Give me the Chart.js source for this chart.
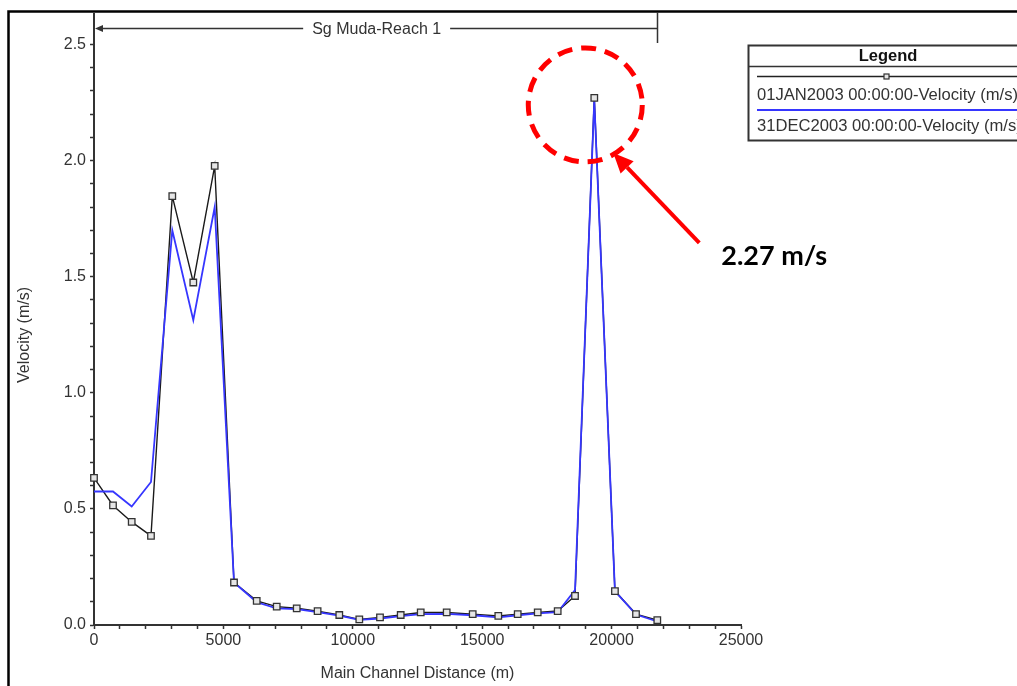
<!DOCTYPE html>
<html><head><meta charset="utf-8">
<script src="https://cdn.jsdelivr.net/npm/chart.js@4.4.1/dist/chart.umd.min.js"></script>
<style>html,body{margin:0;padding:0;background:#fff;overflow:hidden}canvas{display:block}</style>
</head><body>
<canvas id="c" width="1017" height="686"></canvas>
<script>
// Main channel distance of each cross section (m)
const stations = [0, 734, 1457, 2202, 3025, 3837, 4664, 5410, 6287, 7060, 7833, 8640, 9478, 10251,
  11051, 11851, 12624, 13628, 14633, 15622, 16372, 17145, 17917, 18586, 19331, 20129, 20943, 21766];
// 01JAN2003 velocity (m/s)
const velJan = [0.634, 0.515, 0.444, 0.384, 1.847, 1.475, 1.977, 0.183, 0.104, 0.079, 0.072, 0.060, 0.043, 0.024,
  0.033, 0.043, 0.054, 0.054, 0.047, 0.039, 0.047, 0.054, 0.060, 0.125, 2.27, 0.146, 0.047, 0.021];
// 31DEC2003 velocity (m/s)
const velDec = [0.575, 0.575, 0.510, 0.616, 1.700, 1.313, 1.800, 0.183, 0.098, 0.072, 0.068, 0.055, 0.040, 0.022,
  0.028, 0.038, 0.047, 0.048, 0.042, 0.033, 0.042, 0.050, 0.055, 0.150, 2.26, 0.146, 0.045, 0.015];

const xTickValues = [0,1000,2000,3000,4000,5000,6000,7000,8000,9000,10000,11000,12000,13000,14000,
  15000,16000,17000,18000,19000,20000,21000,22000,23000,24000,25000];
const xMajorTicks = [0, 5000, 10000, 15000, 20000, 25000];
const yTickValues = [0,0.1,0.2,0.3,0.4,0.5,0.6,0.7,0.8,0.9,1.0,1.1,1.2,1.3,1.4,1.5,1.6,1.7,1.8,1.9,2.0,
  2.1,2.2,2.3,2.4,2.5];
const yMajorTicks = [0, 0.5, 1.0, 1.5, 2.0, 2.5];

const janLabel = '01JAN2003 00:00:00-Velocity (m/s)';
const decLabel = '31DEC2003 00:00:00-Velocity (m/s)';
const reachName = 'Sg Muda-Reach 1';
const xTitle = 'Main Channel Distance (m)';
const yTitle = 'Velocity (m/s)';
const legendTitle = 'Legend';

const FONT = '"Liberation Sans", Arial, sans-serif';
const isMajor = (v, list) => list.some(m => Math.abs(m - v) < 1e-6);

const overlay = {
  id: 'overlay',
  afterDraw(chart) {
    const {ctx, scales: {x, y}} = chart;
    ctx.save();
    // outer frame
    ctx.strokeStyle = '#000'; ctx.lineWidth = 2.5;
    ctx.beginPath(); ctx.moveTo(8.5, 690); ctx.lineTo(8.5, 11.5); ctx.lineTo(1020, 11.5); ctx.stroke();

    // y axis title
    ctx.save();
    ctx.fillStyle = '#333'; ctx.font = '16px ' + FONT; ctx.textAlign = 'center'; ctx.textBaseline = 'middle';
    ctx.translate(25, 335); ctx.rotate(-Math.PI / 2); ctx.fillText(yTitle, 0, 0);
    ctx.restore();

    // reach bracket
    const xs = x.getPixelForValue(stations[0]);
    const xe = x.getPixelForValue(stations[stations.length - 1]);
    const by = 28.5;
    ctx.font = '16px ' + FONT;
    const tw = ctx.measureText(reachName).width;
    const tc = (xs + xe) / 2 + 1;
    ctx.strokeStyle = '#333'; ctx.fillStyle = '#333'; ctx.lineWidth = 1.5;
    ctx.beginPath();
    ctx.moveTo(xs + 4, by); ctx.lineTo(tc - tw / 2 - 9, by);
    ctx.moveTo(tc + tw / 2 + 9, by); ctx.lineTo(xe, by);
    ctx.moveTo(Math.round(xe) + 0.5, 12); ctx.lineTo(Math.round(xe) + 0.5, 43);
    ctx.stroke();
    ctx.beginPath(); ctx.moveTo(xs + 1, by); ctx.lineTo(xs + 9, by - 3.5); ctx.lineTo(xs + 9, by + 3.5); ctx.closePath(); ctx.fill();
    ctx.textAlign = 'center'; ctx.textBaseline = 'middle';
    ctx.fillText(reachName, tc, by + 1);

    // legend box
    const lx = 748.5, ly = 45.5, lr = 1030, lb = 140.5;
    ctx.strokeStyle = '#333'; ctx.lineWidth = 2;
    ctx.strokeRect(lx, ly, lr - lx, lb - ly);
    ctx.lineWidth = 1.5;
    ctx.beginPath(); ctx.moveTo(lx, 66.5); ctx.lineTo(lr, 66.5); ctx.stroke();
    ctx.fillStyle = '#111'; ctx.font = 'bold 16.5px ' + FONT; ctx.textAlign = 'center';
    ctx.fillText(legendTitle, 888, 56);
    ctx.strokeStyle = '#222'; ctx.lineWidth = 1.5;
    ctx.beginPath(); ctx.moveTo(757, 76.5); ctx.lineTo(lr, 76.5); ctx.stroke();
    ctx.fillStyle = '#e6e6e6'; ctx.fillRect(884, 74, 5, 5);
    ctx.strokeStyle = '#333'; ctx.lineWidth = 1.2; ctx.strokeRect(884, 74, 5, 5);
    ctx.strokeStyle = '#3636ff'; ctx.lineWidth = 2;
    ctx.beginPath(); ctx.moveTo(757, 110); ctx.lineTo(lr, 110); ctx.stroke();
    ctx.fillStyle = '#333'; ctx.font = '16.6px ' + FONT; ctx.textAlign = 'left';
    ctx.fillText(janLabel, 757, 95.5);
    ctx.fillText(decLabel, 757, 126.5);

    // peak annotation
    let ip = 0;
    velJan.forEach((v, i) => { if (v > velJan[ip]) ip = i; });
    const px = x.getPixelForValue(stations[ip]);
    const py = y.getPixelForValue(velJan[ip]);
    ctx.strokeStyle = '#ff0000'; ctx.lineWidth = 5; ctx.setLineDash([15, 9]);
    ctx.beginPath(); ctx.arc(px - 9, py + 7, 57, 0, Math.PI * 2); ctx.stroke();
    ctx.setLineDash([]);
    const tipX = px + 19, tipY = py + 55, tailX = px + 105, tailY = py + 145;
    const ang = Math.atan2(tipY - tailY, tipX - tailX);
    const hl = 20, hw = 9;
    const bx = tipX - hl * Math.cos(ang), byy = tipY - hl * Math.sin(ang);
    ctx.lineWidth = 4;
    ctx.beginPath(); ctx.moveTo(tailX, tailY); ctx.lineTo(bx, byy); ctx.stroke();
    ctx.fillStyle = '#ff0000';
    ctx.beginPath(); ctx.moveTo(tipX, tipY);
    ctx.lineTo(bx + hw * Math.sin(ang), byy - hw * Math.cos(ang));
    ctx.lineTo(bx - hw * Math.sin(ang), byy + hw * Math.cos(ang));
    ctx.closePath(); ctx.fill();
    ctx.fillStyle = '#000'; ctx.font = 'bold 27px Lato, "Open Sans", sans-serif';
    ctx.textAlign = 'left'; ctx.textBaseline = 'middle';
    ctx.fillText(velJan[ip].toFixed(2) + ' m/s', px + 127, py + 158);
    ctx.restore();
  }
};

const pts = arr => stations.map((s, i) => ({x: s, y: arr[i]}));

new Chart(document.getElementById('c'), {
  type: 'line',
  data: {
    datasets: [
      {label: janLabel + ' markers', data: pts(velJan), showLine: false, pointStyle: 'rect', pointRadius: 4.6,
        pointBorderColor: '#333', pointBackgroundColor: '#e6e6e6', pointBorderWidth: 1.3, clip: false},
      {label: decLabel, data: pts(velDec), borderColor: '#3636ff', borderWidth: 1.8, pointRadius: 0, tension: 0, fill: false},
      {label: janLabel, data: pts(velJan), borderColor: '#1a1a1a', borderWidth: 1.4, pointRadius: 0, tension: 0, fill: false}
    ]
  },
  options: {
    responsive: false, animation: false, devicePixelRatio: 1,
    layout: {padding: {left: 0, top: 12, right: 276, bottom: 0}},
    plugins: {legend: {display: false}, tooltip: {enabled: false}},
    scales: {
      x: {
        type: 'linear', min: 0, max: 25000,
        afterBuildTicks(s) { s.ticks = xTickValues.map(v => ({value: v})); },
        afterFit(s) { s.height = 61; },
        ticks: {autoSkip: false, maxRotation: 0, padding: 2, color: '#333', font: {family: FONT, size: 16},
          callback: v => isMajor(v, xMajorTicks) ? String(v) : ''},
        grid: {display: true, drawOnChartArea: false, drawTicks: true, tickLength: 4, tickColor: '#333', tickWidth: 1.5},
        border: {display: true, color: '#333', width: 2},
        title: {display: true, text: xTitle, color: '#333', font: {family: FONT, size: 16}, padding: {top: 0, bottom: 3}}
      },
      y: {
        type: 'linear', min: 0, max: 2.633,
        afterBuildTicks(s) { s.ticks = yTickValues.map(v => ({value: v})); },
        afterFit(s) { s.width = 94; },
        ticks: {autoSkip: false, padding: 4, color: '#333', font: {family: FONT, size: 16},
          callback: v => isMajor(v, yMajorTicks) ? v.toFixed(1) : ''},
        grid: {display: true, drawOnChartArea: false, drawTicks: true, tickLength: 4, tickColor: '#333', tickWidth: 1.5},
        border: {display: true, color: '#333', width: 2},
        title: {display: false}
      }
    }
  },
  plugins: [overlay]
});
</script>
</body></html>
